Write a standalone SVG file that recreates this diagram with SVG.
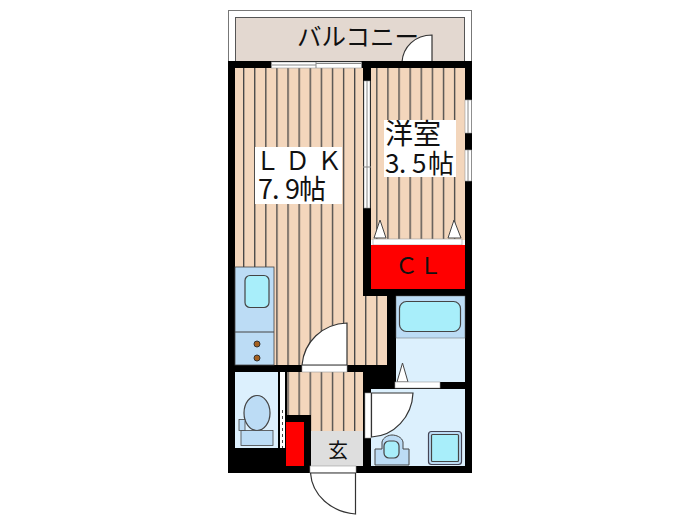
<svg xmlns="http://www.w3.org/2000/svg" width="700" height="525" viewBox="0 0 700 525">
<style>
.w{fill:#000}
.door{fill:#fff;stroke:#333;stroke-width:1.2}
.j{fill:#fff;stroke:#999;stroke-width:.6}
.wet{fill:#bcdcf5;stroke:#444;stroke-width:.8}
.bas{fill:#a8eefa;stroke:#444;stroke-width:1.2}
.t{font-family:"Noto Sans CJK JP","Noto Sans",sans-serif;fill:#111}
</style>
<defs>
<pattern id="fl" x="243" y="0" width="11.1" height="20" patternUnits="userSpaceOnUse">
<rect width="11.1" height="20" fill="#f3d6bc"/><rect x="0" width="1.3" height="20" fill="#444"/>
</pattern>
</defs>
<rect width="700" height="525" fill="#fff"/>
<g id="balcony">
<rect x="228.5" y="10.5" width="243" height="52" fill="#fff" stroke="#777"/>
<rect x="235.5" y="17.5" width="229" height="45" fill="#e3d8d0" stroke="#555"/>
<text class="t" x="297" y="46" font-size="24.500">バルコニー</text>
<path class="door" d="M432 35V62H402C403 47 415 35 432 35Z"/>
</g>
<g id="floors">
<rect x="235" y="68" width="128" height="297" fill="url(#fl)"/>
<rect x="363" y="296" width="24" height="69" fill="url(#fl)"/>
<rect x="371" y="68" width="94" height="172" fill="url(#fl)"/>
<rect x="287" y="372" width="76" height="59" fill="url(#fl)"/>
</g>
<g id="walls">
<rect class="w" x="228" y="61" width="244" height="7"/>
<rect class="w" x="228" y="61" width="7" height="412"/>
<rect class="w" x="465" y="61" width="7" height="412"/>
<rect class="w" x="228" y="466" width="244" height="7"/>
<rect class="w" x="363" y="61" width="8" height="235"/>
<rect class="w" x="363" y="289" width="109" height="7"/>
<rect class="w" x="387" y="296" width="9" height="93"/>
<rect class="w" x="235" y="365" width="152" height="7"/>
<rect class="w" x="363" y="365" width="33" height="24"/>
<rect class="w" x="363" y="365" width="8" height="101"/>
<rect class="w" x="396" y="382" width="76" height="7"/>
<rect class="w" x="235" y="448" width="50" height="18"/>
<rect class="w" x="285" y="372" width="2" height="43"/>
<rect class="w" x="285" y="415" width="26" height="58"/>
</g>
<g id="windows">
<rect class="j" x="271.500" y="62" width="90" height="6"/>
<path d="M272 65H316M316 63.500H361M316 62V68" stroke="#888" stroke-width="1" fill="none"/>
<rect class="j" x="465" y="100" width="6.500" height="33"/>
<rect class="j" x="465" y="150" width="6.500" height="31"/>
<path d="M468 100V133M468 150V181" stroke="#888"/>
<rect class="j" x="364" y="81" width="6" height="127"/>
<path d="M367 81V208M363 167H371" stroke="#888"/>
</g>
<g id="ldk">
<rect x="255" y="147" width="87" height="57" fill="#fff"/>
<text class="t" x="255 285 317" y="170" font-size="25">ＬＤＫ</text>
<text class="t" x="258 272 285 299" y="199" font-size="27">7.9帖</text>
</g>
<g id="kitchen">
<rect x="235" y="267" width="39" height="98" fill="#bcdcf5" stroke="#444" stroke-width=".8"/>
<path d="M235 332H274" stroke="#444"/>
<rect class="bas" x="245" y="275.500" width="24" height="32" rx="5"/>
<circle cx="257" cy="344" r="3" fill="#a5601f" stroke="#333"/>
<circle cx="257" cy="358" r="3" fill="#a5601f" stroke="#333"/>
</g>
<g id="ldk-door">
<rect class="j" x="302" y="365" width="45" height="7"/>
<path class="door" d="M347 323V365H302C304 342 322 324 347 323Z"/>
</g>
<g id="western">
<rect x="384" y="120" width="72" height="57" fill="#fff"/>
<text class="t" x="385" y="144" font-size="28">洋室</text>
<text class="t" x="385 399 412 428" y="173" font-size="26">3.5帖</text>
<path d="M374 238L380 220L386 238Z" fill="#fff" stroke="#444"/>
<path d="M448 238L454 220L461 238Z" fill="#fff" stroke="#444"/>
<rect class="j" x="373" y="239" width="89" height="6"/>
</g>
<g id="closet">
<rect x="371" y="245" width="94" height="44" fill="#f00"/>
<text class="t" x="395 419" y="274" font-size="23">ＣＬ</text>
</g>
<g id="bath">
<rect x="396" y="296" width="69" height="86" fill="#dcf0fd"/>
<rect x="396" y="296" width="69" height="42" fill="#bcdcf5" stroke="#666" stroke-width=".5"/>
<rect class="bas" x="399.500" y="301.500" width="61" height="30" rx="7"/>
<path d="M397 382L402.500 363L408 382Z" fill="#fff" stroke="#444"/>
<rect class="j" x="395" y="382" width="45" height="6"/>
</g>
<g id="washroom">
<rect x="371" y="389" width="94" height="77" fill="#dcf0fd"/>
<rect class="j" x="365" y="393" width="6" height="45"/>
<path class="door" d="M371.500 393H413C412 417 394 436 371.500 437Z"/>
<path d="M375 465V449H382V442C383 437 389 435 392 435C396 435 402 437 403 442V449H409V465Z" fill="#bcdcf5" stroke="#444"/>
<rect class="bas" x="384" y="441" width="15" height="17" rx="5"/>
<rect x="428.500" y="431.500" width="33" height="33" rx="3" fill="#bcdcf5" stroke="#445" stroke-width="1.2"/>
<rect class="bas" x="431.500" y="434.500" width="27" height="27" rx="1"/>
</g>
<g id="toilet">
<rect x="235" y="372" width="43" height="76" fill="#dcf0fd"/>
<rect class="w" x="278" y="372" width="7" height="76"/>
<rect x="280" y="372" width="5" height="76" fill="#fff"/>
<path d="M282.500 410V448" stroke="#444" stroke-dasharray="3 3"/>
<ellipse cx="257" cy="413" rx="13" ry="17.500" fill="#bcdcf5" stroke="#444" stroke-width="1.2"/>
<rect class="wet" x="241" y="430.500" width="32" height="15"/>
<rect class="wet" x="239" y="419.500" width="6" height="11"/>
</g>
<g id="entry">
<rect x="286" y="422" width="18" height="44" fill="#f00"/>
<rect x="311" y="431" width="52" height="35" fill="#dedede"/>
<text class="t" x="328" y="458" font-size="20">玄</text>
<rect class="j" x="310" y="466" width="46" height="7"/>
<path class="door" d="M355.500 473V514C331 512 312 495 310.500 473Z"/>
</g>
</svg>
